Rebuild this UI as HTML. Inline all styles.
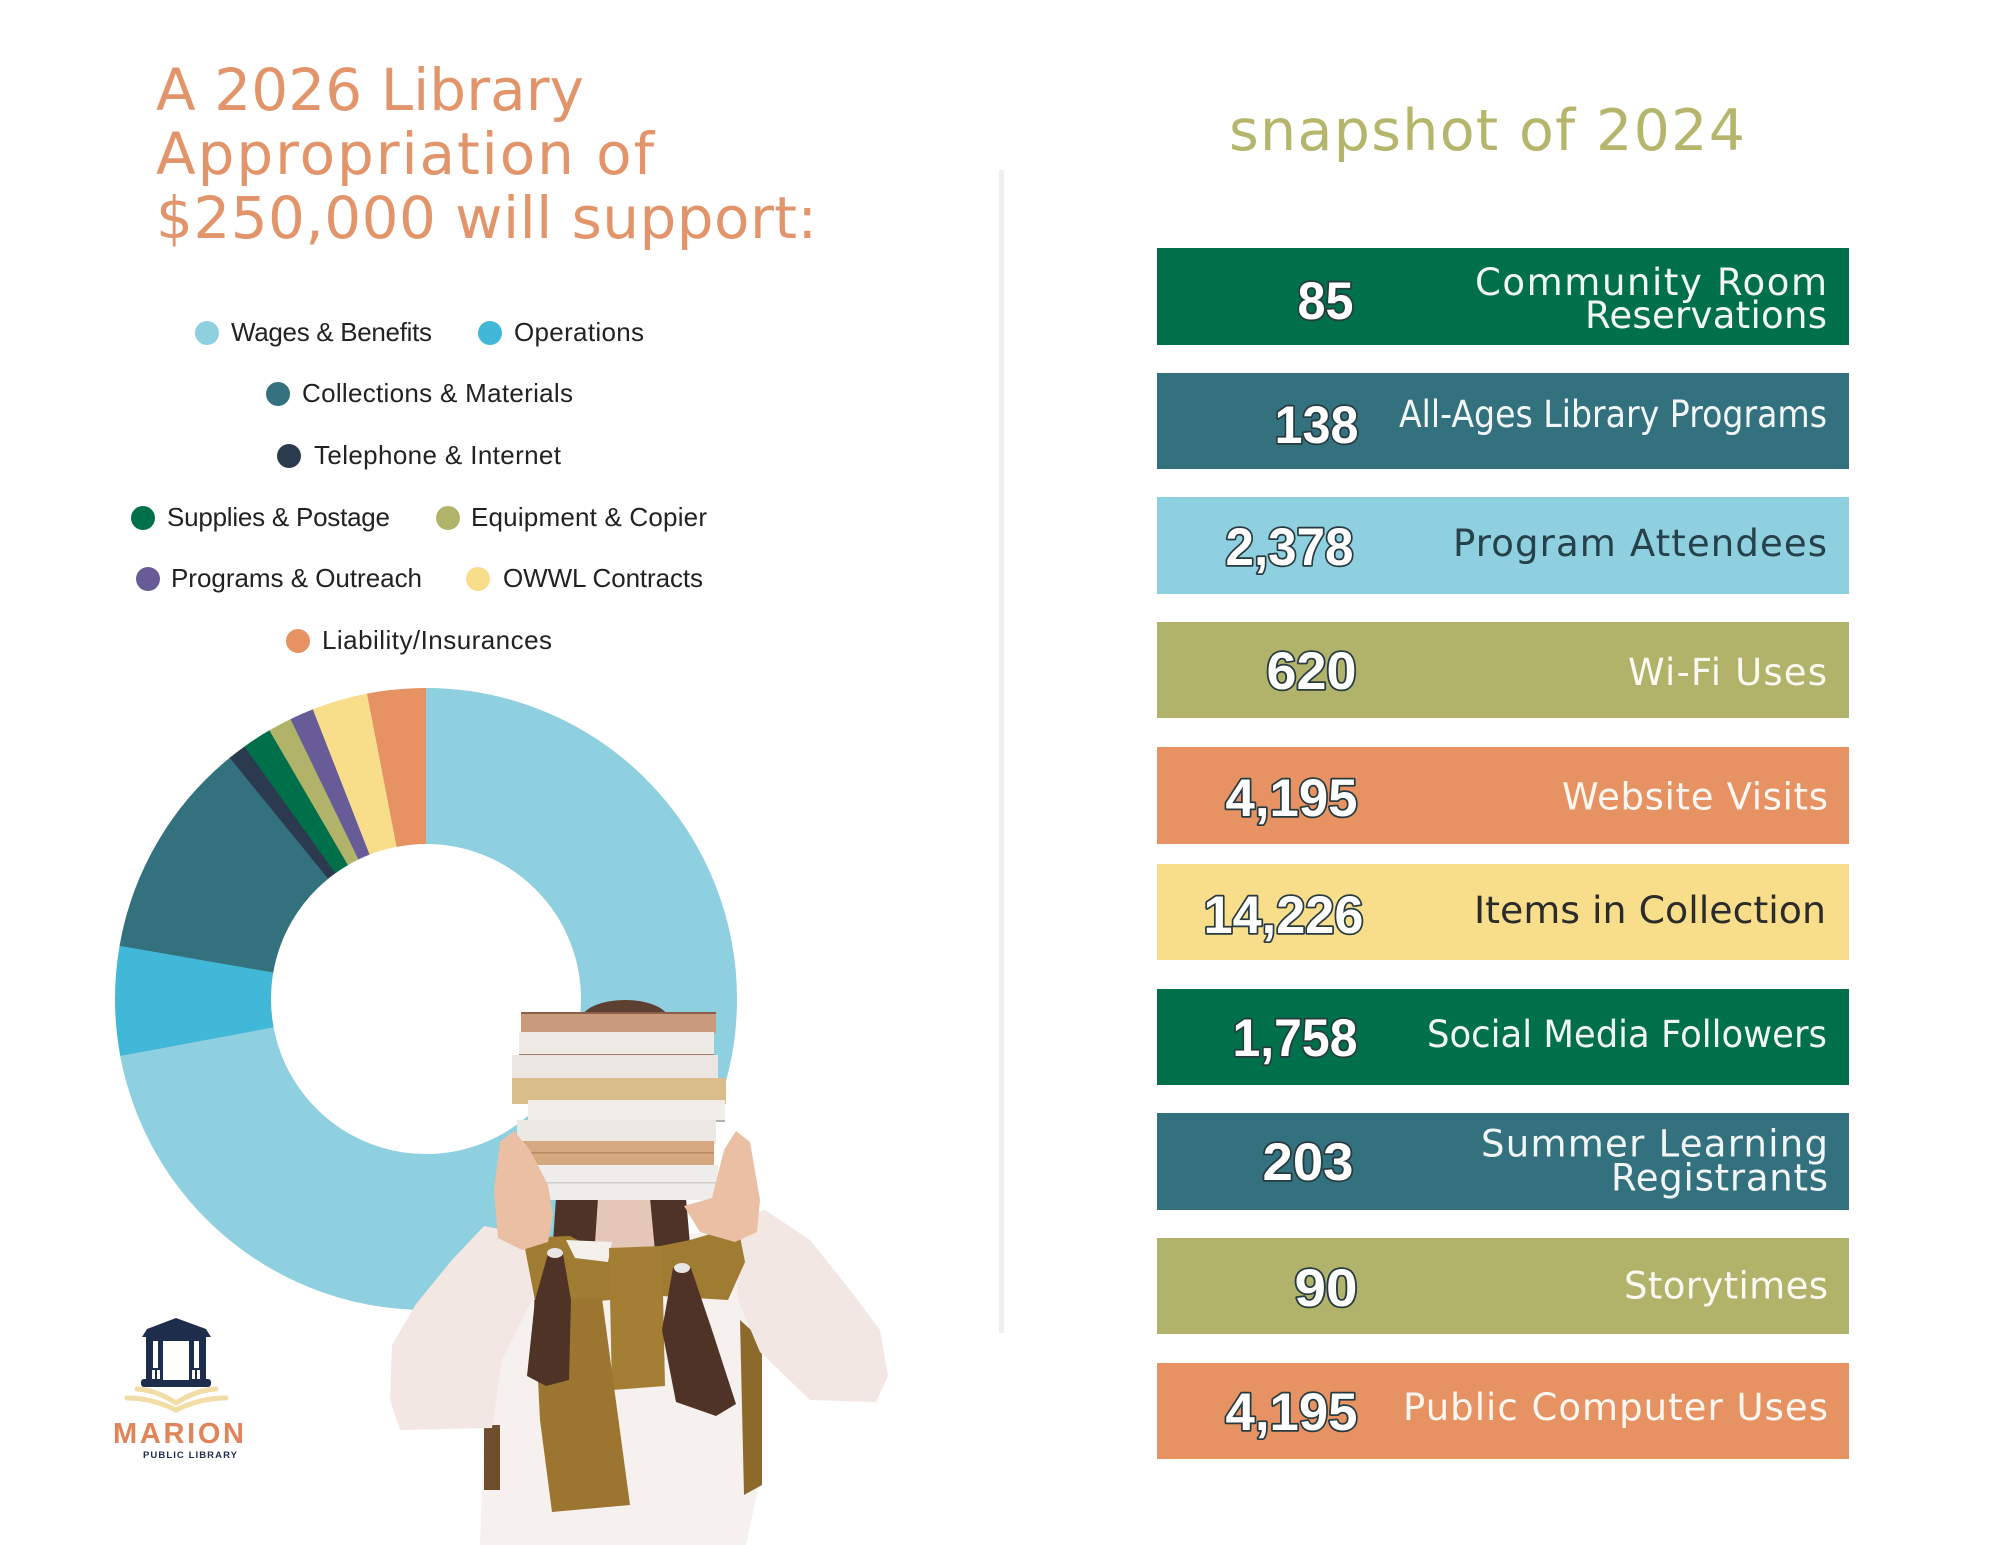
<!DOCTYPE html>
<html>
<head>
<meta charset="utf-8">
<style>
  html,body{margin:0;padding:0;background:#fff;}
  body{width:2000px;height:1545px;overflow:hidden;}
  svg{display:block;}
  text{font-family:"Liberation Sans", Arial, sans-serif;}
  .dv{font-family:"DejaVu Sans", "Liberation Sans", sans-serif;}
</style>
</head>
<body>
<svg width="2000" height="1545" viewBox="0 0 2000 1545" xmlns="http://www.w3.org/2000/svg">
  <rect width="2000" height="1545" fill="#ffffff"/>

  <!-- Title -->
  <g fill="#E2956A" font-size="58" class="dv">
    <text class="dv" x="156" y="110" textLength="428" lengthAdjust="spacing">A 2026 Library</text>
    <text class="dv" x="156" y="174" textLength="498" lengthAdjust="spacing">Appropriation of</text>
    <text class="dv" x="156" y="238" textLength="661" lengthAdjust="spacing">$250,000 will support:</text>
  </g>

  <!-- Legend -->
  <g font-size="26" fill="#222222">
    <circle cx="207" cy="333" r="12" fill="#8ECFE0"/>
    <text x="231" y="341" textLength="201" lengthAdjust="spacing">Wages &amp; Benefits</text>
    <circle cx="490" cy="333" r="12" fill="#42B8D8"/>
    <text x="514" y="341" textLength="130" lengthAdjust="spacing">Operations</text>

    <circle cx="278" cy="394" r="12" fill="#34717E"/>
    <text x="302" y="402" textLength="271" lengthAdjust="spacing">Collections &amp; Materials</text>

    <circle cx="289" cy="456" r="12" fill="#2B3A4F"/>
    <text x="314" y="464" textLength="247" lengthAdjust="spacing">Telephone &amp; Internet</text>

    <circle cx="143" cy="518" r="12" fill="#00704A"/>
    <text x="167" y="526" textLength="223" lengthAdjust="spacing">Supplies &amp; Postage</text>
    <circle cx="448" cy="518" r="12" fill="#B1B36A"/>
    <text x="471" y="526" textLength="236" lengthAdjust="spacing">Equipment &amp; Copier</text>

    <circle cx="148" cy="579" r="12" fill="#675C98"/>
    <text x="171" y="587" textLength="251" lengthAdjust="spacing">Programs &amp; Outreach</text>
    <circle cx="478" cy="579" r="12" fill="#F8DE8B"/>
    <text x="503" y="587" textLength="200" lengthAdjust="spacing">OWWL Contracts</text>

    <circle cx="298" cy="641" r="12" fill="#E69262"/>
    <text x="322" y="649" textLength="230" lengthAdjust="spacing">Liability/Insurances</text>
  </g>

  <!-- Donut -->
  <g transform="rotate(-90 426 999)" fill="none" stroke-width="156">
    <circle cx="426" cy="999" r="233" stroke="#8ECFE0" stroke-dasharray="1055.4 3000"/>
    <circle cx="426" cy="999" r="233" stroke="#42B8D8" stroke-dasharray="0 1054.88 83.4 3000"/>
    <circle cx="426" cy="999" r="233" stroke="#34717E" stroke-dasharray="0 1137.84 167.2 3000"/>
    <circle cx="426" cy="999" r="233" stroke="#2B3A4F" stroke-dasharray="0 1304.57 14.3 3000"/>
    <circle cx="426" cy="999" r="233" stroke="#00704A" stroke-dasharray="0 1318.40 22.8 3000"/>
    <circle cx="426" cy="999" r="233" stroke="#B1B36A" stroke-dasharray="0 1340.76 18.3 3000"/>
    <circle cx="426" cy="999" r="233" stroke="#675C98" stroke-dasharray="0 1358.66 18.7 3000"/>
    <circle cx="426" cy="999" r="233" stroke="#F8DE8B" stroke-dasharray="0 1376.96 42.7 3000"/>
    <circle cx="426" cy="999" r="233" stroke="#E69262" stroke-dasharray="0 1419.25 44.8 3000"/>
  </g>

  <!-- Figure (girl with books) -->
  <g>
    <ellipse cx="625" cy="1020" rx="44" ry="20" fill="#5E4032"/>
    <path d="M498,1240 L745,1232 L760,1300 L760,1480 L746,1545 L480,1545 L484,1430 L490,1300 Z" fill="#F6F1EE"/>
    <path d="M740,1320 L762,1340 L762,1485 L744,1495 Z" fill="#8C6A2C"/>
    <path d="M484,1425 L500,1425 L500,1490 L484,1490 Z" fill="#6E4E2E"/>
    <path d="M484,1226 L535,1236 L532,1300 L502,1360 L492,1428 L400,1430 L390,1400 L392,1345 L416,1304 L452,1260 Z" fill="#F3E7E3"/>
    <path d="M735,1220 L765,1210 L810,1240 L850,1290 L880,1330 L888,1376 L876,1402 L810,1400 L760,1352 L738,1300 Z" fill="#F3E7E3"/>
    <path d="M572,1198 L676,1198 L676,1250 L572,1250 Z" fill="#E4C7B6"/>
    <path d="M556,1198 L598,1198 L594,1258 L552,1256 Z" fill="#4F3326"/>
    <path d="M650,1198 L686,1198 L692,1268 L656,1262 Z" fill="#4F3326"/>
    <path d="M523,1238 L570,1236 L600,1252 L640,1250 L690,1240 L738,1226 L745,1262 L728,1300 L662,1296 L610,1300 L536,1306 Z" fill="#A07B32"/>
    <path d="M566,1240 L612,1242 L608,1262 L575,1258 Z" fill="#F4F0EC"/>
    <path d="M609,1248 L662,1246 L665,1386 L612,1390 Z" fill="#A47E34"/>
    <path d="M534,1300 L602,1298 L630,1505 L552,1512 L540,1420 Z" fill="#9C7630"/>
    <path d="M548,1254 L563,1254 L571,1300 L569,1380 L546,1386 L527,1376 L535,1300 Z" fill="#4F3326"/>
    <path d="M673,1268 L691,1268 L712,1330 L736,1404 L716,1416 L676,1402 L662,1330 Z" fill="#4F3326"/>
    <ellipse cx="555" cy="1253" rx="8" ry="5" fill="#E8E6E6"/>
    <ellipse cx="682" cy="1268" rx="8" ry="5" fill="#E8E6E6"/>
    <rect x="521" y="1012" width="195" height="21" fill="#C99A7B"/>
    <rect x="521" y="1012" width="195" height="2" fill="#8B5E4A"/>
    <rect x="519" y="1032" width="195" height="24" fill="#EEEAE6"/>
    <rect x="519" y="1054" width="195" height="2" fill="#A07F6C"/>
    <rect x="512" y="1055" width="206" height="28" fill="#ECE6E2"/>
    <rect x="512" y="1081" width="206" height="2" fill="#9A7464"/>
    <rect x="512" y="1078" width="214" height="26" fill="#D9BE8C"/>
    <rect x="528" y="1100" width="197" height="22" fill="#F1EEEA"/>
    <rect x="528" y="1120" width="197" height="2" fill="#B8AFA8"/>
    <rect x="517" y="1120" width="199" height="24" fill="#ECE8E3"/>
    <rect x="523" y="1141" width="191" height="26" fill="#D6A87F"/>
    <rect x="523" y="1152" width="191" height="1.5" fill="#B88A62"/>
    <rect x="521" y="1165" width="197" height="35" fill="#EFEDEB"/>
    <rect x="521" y="1182" width="197" height="1.5" fill="#D0CCC8"/>
    <path d="M500,1142 L514,1131 L530,1150 L548,1185 L553,1215 L548,1242 L522,1250 L498,1238 L494,1190 Z" fill="#EABFA4"/>
    <path d="M684,1206 L712,1198 L724,1150 L736,1131 L750,1142 L760,1200 L757,1232 L735,1242 L700,1232 Z" fill="#EABFA4"/>
  </g>

  <!-- Logo -->
  <g>
    <g fill="#1F2D4D">
      <path d="M176,1318 L206,1329 L211,1337 L142,1337 L147,1329 Z"/>
      <rect x="146" y="1337" width="60" height="44"/>
      <rect x="141" y="1379" width="70" height="8" rx="3"/>
    </g>
    <rect x="163" y="1341" width="26" height="39" fill="#ffffff"/>
    <rect x="153" y="1341" width="5" height="27" fill="#ffffff"/>
    <rect x="194" y="1341" width="5" height="27" fill="#ffffff"/>
    <rect x="152" y="1370" width="3" height="9" fill="#ffffff"/>
    <rect x="157" y="1370" width="3" height="9" fill="#ffffff"/>
    <rect x="192" y="1370" width="3" height="9" fill="#ffffff"/>
    <rect x="197" y="1370" width="3" height="9" fill="#ffffff"/>
    <g stroke="#F3DDA6" stroke-width="5" fill="none" stroke-linecap="round">
      <path d="M176,1403 Q156,1390 137,1389"/>
      <path d="M176,1410 Q152,1398 127,1398"/>
      <path d="M176,1403 Q196,1390 216,1389"/>
      <path d="M176,1410 Q200,1398 226,1398"/>
    </g>
    <text x="113" y="1443" font-weight="bold" font-size="29" fill="#E0845A" textLength="131" lengthAdjust="spacing">MARION</text>
    <text x="143" y="1458" font-weight="bold" font-size="9.5" fill="#1F2D4D" textLength="94" lengthAdjust="spacing">PUBLIC LIBRARY</text>
  </g>

  <!-- Divider -->
  <rect x="999" y="170" width="5" height="1163" fill="#EFEFEF"/>

  <!-- Right heading -->
  <text class="dv" x="1229" y="150" font-size="57" fill="#B5B56C" textLength="516" lengthAdjust="spacing">snapshot of 2024</text>

  <!-- Bars -->
  <rect x="1157" y="248" width="692" height="97" fill="#00704A"/>
  <rect x="1157" y="373" width="692" height="96" fill="#34717E"/>
  <rect x="1157" y="497" width="692" height="97" fill="#8ECFE0"/>
  <rect x="1157" y="622" width="692" height="96" fill="#B1B36A"/>
  <rect x="1157" y="747" width="692" height="97" fill="#E69262"/>
  <rect x="1157" y="864" width="692" height="96" fill="#F8DE8B"/>
  <rect x="1157" y="989" width="692" height="96" fill="#00704A"/>
  <rect x="1157" y="1113" width="692" height="97" fill="#34717E"/>
  <rect x="1157" y="1238" width="692" height="96" fill="#B1B36A"/>
  <rect x="1157" y="1363" width="692" height="96" fill="#E69262"/>

  <!-- Numbers -->
  <g font-weight="bold" font-size="53" fill="#ffffff" stroke="#263A3F" stroke-width="3.5" paint-order="stroke" stroke-linejoin="round">
    <text x="1297.5" y="319" textLength="56" lengthAdjust="spacingAndGlyphs">85</text>
    <text x="1274.5" y="443" textLength="84" lengthAdjust="spacingAndGlyphs">138</text>
    <text x="1225.5" y="565" textLength="128" lengthAdjust="spacingAndGlyphs">2,378</text>
    <text x="1266.5" y="689" textLength="90" lengthAdjust="spacingAndGlyphs">620</text>
    <text x="1225.5" y="816" textLength="132" lengthAdjust="spacingAndGlyphs">4,195</text>
    <text x="1203.5" y="933" textLength="160" lengthAdjust="spacingAndGlyphs">14,226</text>
    <text x="1232.5" y="1056" textLength="125" lengthAdjust="spacingAndGlyphs">1,758</text>
    <text x="1262.5" y="1180" textLength="91" lengthAdjust="spacingAndGlyphs">203</text>
    <text x="1294.5" y="1306" textLength="63" lengthAdjust="spacingAndGlyphs">90</text>
    <text x="1225.5" y="1430" textLength="132" lengthAdjust="spacingAndGlyphs">4,195</text>
  </g>

  <!-- Labels -->
  <g font-size="37">
    <text class="dv" x="1475" y="295" fill="#F2F6F2" textLength="352" lengthAdjust="spacing">Community Room</text>
    <text class="dv" x="1585" y="328" fill="#F2F6F2" textLength="242" lengthAdjust="spacing">Reservations</text>
    <text class="dv" x="1399" y="427" fill="#F2F6F6" textLength="428" lengthAdjust="spacingAndGlyphs">All-Ages Library Programs</text>
    <text class="dv" x="1453" y="556" fill="#27414A" textLength="374" lengthAdjust="spacing">Program Attendees</text>
    <text class="dv" x="1628" y="685" fill="#FAFAF2" textLength="199" lengthAdjust="spacing">Wi-Fi Uses</text>
    <text class="dv" x="1562" y="809.5" fill="#FFF8F2" textLength="266" lengthAdjust="spacing">Website Visits</text>
    <text class="dv" x="1474" y="923" fill="#2B2B2B" textLength="352" lengthAdjust="spacingAndGlyphs">Items in Collection</text>
    <text class="dv" x="1427" y="1047" fill="#F2F6F2" textLength="400" lengthAdjust="spacingAndGlyphs">Social Media Followers</text>
    <text class="dv" x="1481" y="1156.5" fill="#F2F6F6" textLength="347" lengthAdjust="spacing">Summer Learning</text>
    <text class="dv" x="1611" y="1190.5" fill="#F2F6F6" textLength="217" lengthAdjust="spacing">Registrants</text>
    <text class="dv" x="1624" y="1298.5" fill="#FAFAF2" textLength="204" lengthAdjust="spacing">Storytimes</text>
    <text class="dv" x="1403" y="1420" fill="#FFF8F2" textLength="425" lengthAdjust="spacing">Public Computer Uses</text>
  </g>
</svg>
</body>
</html>
